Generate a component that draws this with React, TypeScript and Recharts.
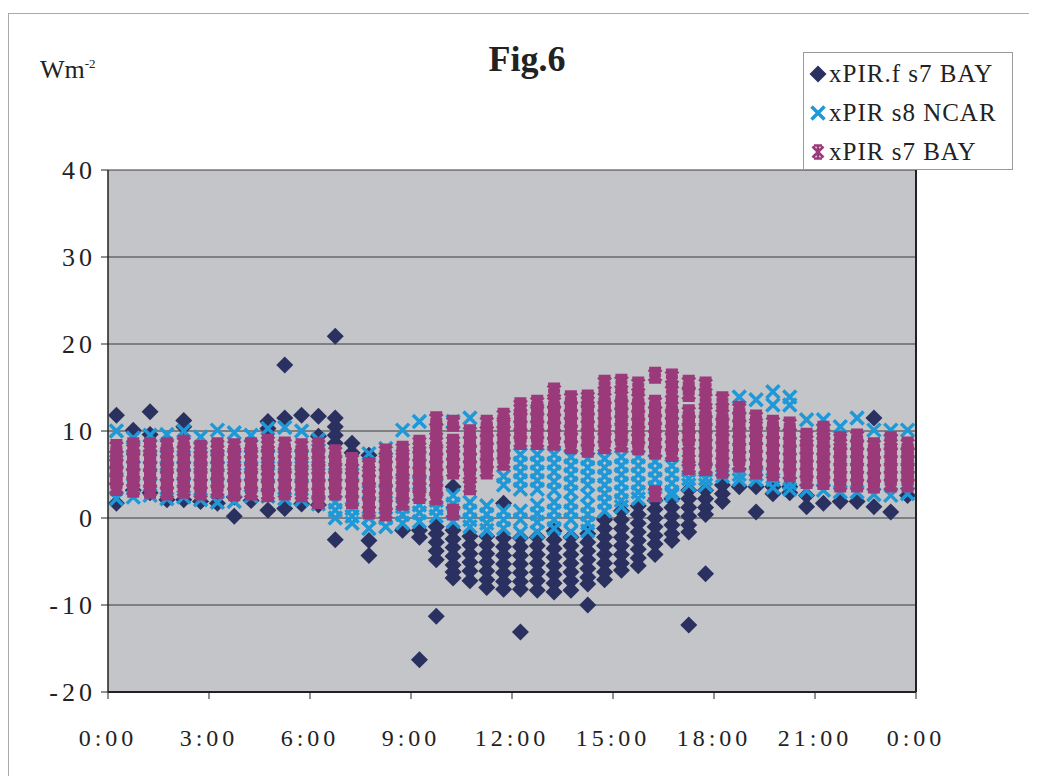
import {
  ScatterChart,
  Scatter,
  XAxis,
  YAxis,
  CartesianGrid,
  ReferenceLine,
} from "recharts";

// time of day of each 30-minute column
const times = [
  "0:15", "0:45", "1:15", "1:45", "2:15", "2:45", "3:15", "3:45",
  "4:15", "4:45", "5:15", "5:45", "6:15", "6:45", "7:15", "7:45",
  "8:15", "8:45", "9:15", "9:45", "10:15", "10:45", "11:15", "11:45",
  "12:15", "12:45", "13:15", "13:45", "14:15", "14:45", "15:15", "15:45",
  "16:15", "16:45", "17:15", "17:45", "18:15", "18:45", "19:15", "19:45",
  "20:15", "20:45", "21:15", "21:45", "22:15", "22:45", "23:15", "23:45",
];

// xPIR.f s7 BAY (W m-2), one list per column
const pirfS7 = [
  [1.7, 11.8], [3.2, 10.1], [2.9, 9.6, 12.2], [2.1], [2.1, 10.5, 11.2], [1.9],
  [1.7], [0.2, 2.4], [2.0], [0.9, 10.3, 11.1], [1.1, 11.5, 17.6], [1.6, 11.8],
  [1.5, 9.4, 11.7], [-2.5, 8.6, 9.5, 10.5, 11.5, 20.9], [7.5, 8.6], [-4.3, -2.6, 7.2],
  [], [-1.4], [-1.4, -2.2, -16.3], [-1, -1.8, -2.8, -3.8, -4.8, -11.3],
  [3.6, -1.4, -2.4, -3.4, -4.4, -5.4, -6.2, -6.9],
  [-2.1, -3.1, -4.1, -5.1, -6.1, -7.2],
  [-2.1, -3.1, -4.1, -5.1, -6.1, -7.1, -8],
  [1.7, -2.3, -3.3, -4.3, -5.3, -6.3, -7.3, -8.2],
  [-2.3, -3.3, -4.3, -5.3, -6.3, -7.3, -8.2, -13.1],
  [-2.2, -3.2, -4.2, -5.2, -6.2, -7.2, -8.3],
  [-1.5, -2.5, -3.5, -4.5, -5.5, -6.5, -7.5, -8.5],
  [-2.2, -3.2, -4.2, -5.2, -6.2, -7.2, -8.3],
  [-1.8, -2.8, -3.8, -4.8, -5.8, -6.8, -7.6, -10],
  [-0.2, -1.2, -2.2, -3.2, -4.2, -5.2, -6.2, -7.1],
  [0.8, -0.2, -1.2, -2.2, -3.2, -4.2, -5.2, -6],
  [1.4, 0.4, -0.6, -1.6, -2.6, -3.6, -4.6, -5.5],
  [2, 1, 0, -1, -2, -3, -4.2],
  [2.2, 1.2, 0.2, -0.8, -1.8, -2.6],
  [3.2, 2.2, 1.2, 0.2, -0.8, -1.6, -12.3],
  [3.2, 2.2, 1.2, 0.4, -6.4],
  [3.8, 2.8, 1.9], [3.6], [3.6, 0.7], [3.6, 2.8], [3.6, 2.9], [2.6, 1.3],
  [1.7], [1.9], [1.9], [11.5, 1.3], [0.7], [2.6],
];

// xPIR s8 NCAR
const pirS8 = [
  [2.2, 4.5, 6.5, 10], [2.4, 5, 7, 9.2], [2.6, 5, 7, 9.5], [2.2, 5, 7, 9.6],
  [2.4, 5, 7, 10], [2.1, 5, 7, 9.3], [1.8, 5, 7, 10.1], [1.9, 5, 7, 9.8],
  [2.5, 5, 7, 9.5], [2.5, 5, 7, 10.3], [2.2, 5, 7, 10.4], [2.1, 5, 7, 10],
  [1.6, 5, 7, 9], [0, 0.9, 1.8, 5], [-0.6, 0.2, 1.1, 5], [-1.2, 0, 3, 7.4],
  [-1, 0, 3, 8], [-0.6, 0.4, 1.3, 4, 10.1], [-0.4, 0.6, 1.5, 4, 11.1],
  [0.2, 1.1, 2, 5], [2.6, 1.6, 0.6, -0.4, 11.1], [1.8, 0.8, -0.2, -1, 11.5],
  [1.4, 0.4, -0.6, -1.4], [4.8, 3.8, 0.8, -0.2, -1.2],
  [7.3, 6.3, 5.3, 4.3, 3.3, 0.8, -0.2, -1.7],
  [7.3, 6.3, 5.3, 4.3, 3.3, 1.5, 0.5, -0.5, -1.6],
  [7.3, 6.3, 5.3, 4.2, 3.2, 1.8, 0.8, -0.2, -1.2],
  [7, 6, 5, 4, 3, 1.8, 0.8, -0.2, -1.6],
  [6.8, 5.8, 4.8, 3.8, 2.6, 1.4, 0.4, -0.6, -1.5],
  [6.8, 5.8, 4.8, 3.8, 2.8, 1.8, 0.8],
  [7, 6, 5, 4, 3, 2, 1.3],
  [7, 6, 5, 4, 3, 2.2],
  [6.5, 5.5, 4.5, 3.5, 2.6], [6, 5, 4, 3, 2.6], [5.5, 4.5, 3.8], [5.5, 4.5, 3.8],
  [5.5, 4.8], [5, 4.4, 13.9], [5, 4.4, 13.6], [4.4, 3.5, 13, 14.5],
  [4, 3.3, 13, 13.9], [3.2, 11.3], [3.2, 11.3], [3, 10.5], [3, 11.5],
  [2.7, 10.1], [2.6, 10.1], [2.8, 10.1],
];

// xPIR s7 BAY
const pirS7 = [
  [3.5, 4.4, 5.3, 6.2, 7.1, 8.1],
  [3.3, 4.2, 5.1, 6, 6.9, 7.8, 8.3],
  [3.2, 4.1, 5, 5.9, 6.8, 7.7, 8.3],
  [3, 3.9, 4.8, 5.7, 6.6, 7.5, 8.3],
  [3.2, 4.1, 5, 5.9, 6.8, 7.7, 8.6],
  [3, 3.9, 4.8, 5.7, 6.6, 7.5, 8],
  [3.2, 4.1, 5, 5.9, 6.8, 7.7, 8.3],
  [2.9, 3.8, 4.7, 5.6, 6.5, 7.4, 8.2],
  [3, 3.9, 4.8, 5.7, 6.6, 7.5, 8.3],
  [2.8, 3.7, 4.6, 5.5, 6.4, 7.3, 8.2, 8.7],
  [3, 3.9, 4.8, 5.7, 6.6, 7.5, 8.4],
  [2.8, 3.7, 4.6, 5.5, 6.4, 7.3, 8.2],
  [2, 2.9, 3.8, 4.7, 5.6, 6.5, 7.4, 8.3],
  [3, 3.9, 4.8, 5.7, 6.6, 7.5],
  [2, 2.9, 3.8, 4.7, 5.6, 6.6],
  [0.8, 1.7, 2.6, 3.5, 4.4, 5.3, 6],
  [0.6, 1.5, 2.4, 3.3, 4.2, 5.1, 6, 6.9, 7.6],
  [1.8, 2.7, 3.6, 4.5, 5.4, 6.3, 7.2, 7.9],
  [2.6, 3.5, 4.4, 5.3, 6.2, 7.1, 8, 8.6],
  [2.4, 3.3, 4.2, 5.1, 6, 6.9, 7.8, 8.6, 10.2, 11.3],
  [0.7, 5.4, 6.3, 7.2, 8.1, 8.7, 10.9],
  [3.6, 5.1, 6, 6.9, 7.8, 8.7, 9.8],
  [5.4, 6.3, 7.2, 8.1, 9, 9.9, 10.9],
  [6.4, 7.3, 8.2, 9.1, 10, 10.9, 11.7],
  [8.8, 9.7, 10.6, 11.5, 12.4, 12.9],
  [8.8, 9.7, 10.6, 11.5, 12.4, 13.2],
  [8.7, 9.6, 10.5, 11.4, 12.3, 13.2, 14.6],
  [8.3, 9.2, 10.1, 11, 11.9, 12.8, 13.7],
  [7.9, 8.8, 9.7, 10.6, 11.5, 12.4, 13.3, 13.8],
  [8.3, 9.2, 10.1, 11, 11.9, 12.8, 13.7, 15.5],
  [8.5, 9.4, 10.3, 11.2, 12.1, 13, 13.9, 15.6],
  [8.2, 9.1, 10, 10.9, 11.8, 12.7, 13.6, 15.3],
  [2.8, 7.7, 8.6, 9.5, 10.4, 11.3, 12.2, 13.2, 16.4],
  [7.4, 8.3, 9.2, 10.1, 11, 11.9, 12.7, 14.5, 16.2],
  [5.9, 6.6, 8.5, 9.4, 10.3, 11.2, 12.1, 14.3, 15.5],
  [5.8, 6.7, 7.6, 8.5, 9.4, 10.3, 11.2, 12.1, 13.6, 15.3],
  [5.5, 6.4, 7.3, 8.2, 9.1, 10, 10.9, 11.8, 13.6],
  [6.2, 7.1, 8, 8.9, 9.8, 10.7, 11.6, 12.5],
  [5.4, 6.3, 7.2, 8.1, 9, 9.9, 10.8, 11.5],
  [5.2, 6.1, 7, 7.9, 8.8, 9.7, 10.9],
  [5.1, 6, 6.9, 7.8, 8.7, 9.6, 10.7],
  [4.3, 5.2, 6.1, 7, 7.9, 8.8, 9.4],
  [4.2, 5.1, 6, 6.9, 7.8, 8.7, 9.6, 10.2],
  [3.9, 4.8, 5.7, 6.6, 7.5, 8.4, 9],
  [3.9, 4.8, 5.7, 6.6, 7.5, 8.4, 9.3],
  [3.8, 4.7, 5.6, 6.5, 7.4, 8.3],
  [3.9, 4.8, 5.7, 6.6, 7.5, 8.4, 9],
  [3.9, 4.8, 5.7, 6.6, 7.5, 8.4],
];

const seriesNames = ["xPIR.f s7 BAY", "xPIR s8 NCAR", "xPIR s7 BAY"];
const hourTicks = [0, 3, 6, 9, 12, 15, 18, 21, 24];
const wmTicks = [-20, -10, 0, 10, 20, 30, 40];

const NAVY = "#2a3160";
const BLUE = "#1f98d8";
const PURPLE = "#9b3a7a";
const SERIF = "'Liberation Serif', 'DejaVu Serif', serif";

const toHours = (t: string) => {
  const [h, m] = t.split(":").map(Number);
  return h + m / 60;
};

const points = (cols: number[][]) =>
  times.flatMap((t, i) => cols[i].map((v) => ({ x: toHours(t), y: v })));

const Diamond = ({ cx, cy }: any) => (
  <path
    d={`M${cx},${cy - 8.5}L${cx + 8.5},${cy}L${cx},${cy + 8.5}L${cx - 8.5},${cy}Z`}
    fill={NAVY}
  />
);

const Cross = ({ cx, cy }: any) => (
  <path
    d={`M${cx - 6.5},${cy - 6.5}L${cx + 6.5},${cy + 6.5}M${cx + 6.5},${cy - 6.5}L${cx - 6.5},${cy + 6.5}`}
    stroke={BLUE}
    strokeWidth={3.5}
    fill="none"
  />
);

// dense star used on the plot: stacked points fuse into solid columns
const Star = ({ cx, cy }: any) => (
  <path
    d={`M${cx - 6},${cy - 6}L${cx + 6},${cy + 6}M${cx + 6},${cy - 6}L${cx - 6},${cy + 6}M${cx},${cy - 7.5}L${cx},${cy + 7.5}M${cx - 6},${cy - 6.5}L${cx + 6},${cy - 6.5}M${cx - 6},${cy + 6.5}L${cx + 6},${cy + 6.5}M${cx - 6},${cy}L${cx + 6},${cy}`}
    stroke={PURPLE}
    strokeWidth={4}
    fill="none"
  />
);

// lighter star for the legend
const StarIcon = ({ cx, cy }: any) => (
  <path
    d={`M${cx - 5.5},${cy - 5.5}L${cx + 5.5},${cy + 5.5}M${cx + 5.5},${cy - 5.5}L${cx - 5.5},${cy + 5.5}M${cx},${cy - 7}L${cx},${cy + 7}M${cx - 4},${cy - 6.5}L${cx + 4},${cy - 6.5}M${cx - 4},${cy + 6.5}L${cx + 4},${cy + 6.5}`}
    stroke={PURPLE}
    strokeWidth={2.6}
    fill="none"
  />
);

const icons = [Diamond, Cross, StarIcon];

export default function App() {
  return (
    <div style={{ position: "relative", width: 1029, height: 768, fontFamily: SERIF, color: "#222" }}>
      <div style={{ position: "absolute", left: 0, top: 5, right: 0, borderTop: "1px solid #aaa" }} />
      <div style={{ position: "absolute", left: 0, top: 5, bottom: 0, borderLeft: "1px solid #aaa" }} />

      <ScatterChart
        width={1021}
        height={760}
        margin={{ top: 162, right: 113, bottom: 0, left: 40 }}
        style={{ position: "absolute", left: 0, top: 0 }}
      >
        <CartesianGrid vertical={false} stroke="#3a3a3a" fill="#c3c5c8" />
        <XAxis
          type="number"
          dataKey="x"
          domain={[0, 24]}
          ticks={hourTicks}
          tickFormatter={(h: number) => `${h % 24}:00`}
          height={76}
          tickSize={7}
          tickMargin={30}
          axisLine={{ stroke: "#222", strokeWidth: 2 }}
          tickLine={{ stroke: "#222" }}
          tick={{ fontSize: 24, fill: "#222", fontFamily: SERIF, letterSpacing: 4 }}
        />
        <YAxis
          type="number"
          dataKey="y"
          domain={[-20, 40]}
          ticks={wmTicks}
          width={60}
          tickSize={7}
          tickMargin={5}
          axisLine={{ stroke: "#222", strokeWidth: 1.5 }}
          tickLine={{ stroke: "#222" }}
          tick={{ fontSize: 26, fill: "#222", fontFamily: SERIF, letterSpacing: 4 }}
        />
        <ReferenceLine x={24} stroke="#222" strokeWidth={2} />
        <Scatter name={seriesNames[0]} data={points(pirfS7)} shape={Diamond} isAnimationActive={false} />
        <Scatter name={seriesNames[1]} data={points(pirS8)} shape={Cross} isAnimationActive={false} />
        <Scatter name={seriesNames[2]} data={points(pirS7)} shape={Star} isAnimationActive={false} />
      </ScatterChart>

      <div
        style={{
          position: "absolute",
          left: 519,
          top: 30,
          transform: "translateX(-50%)",
          fontSize: 36,
          fontWeight: "bold",
        }}
      >
        Fig.6
      </div>

      <div style={{ position: "absolute", left: 32, top: 47, fontSize: 26 }}>
        Wm<sup style={{ fontSize: 13 }}>-2</sup>
      </div>

      <div
        style={{
          position: "absolute",
          left: 795,
          top: 44,
          width: 210,
          height: 118,
          background: "#fff",
          border: "1px solid #999",
          boxSizing: "border-box",
          paddingTop: 1,
        }}
      >
        {seriesNames.map((name, i) => {
          const Icon = icons[i];
          return (
            <div key={name} style={{ display: "flex", alignItems: "center", height: 39, fontSize: 25, letterSpacing: 1 }}>
              <svg width={22} height={20} style={{ marginLeft: 3 }}>
                <Icon cx={11} cy={10} />
              </svg>
              <span>{name}</span>
            </div>
          );
        })}
      </div>
    </div>
  );
}
